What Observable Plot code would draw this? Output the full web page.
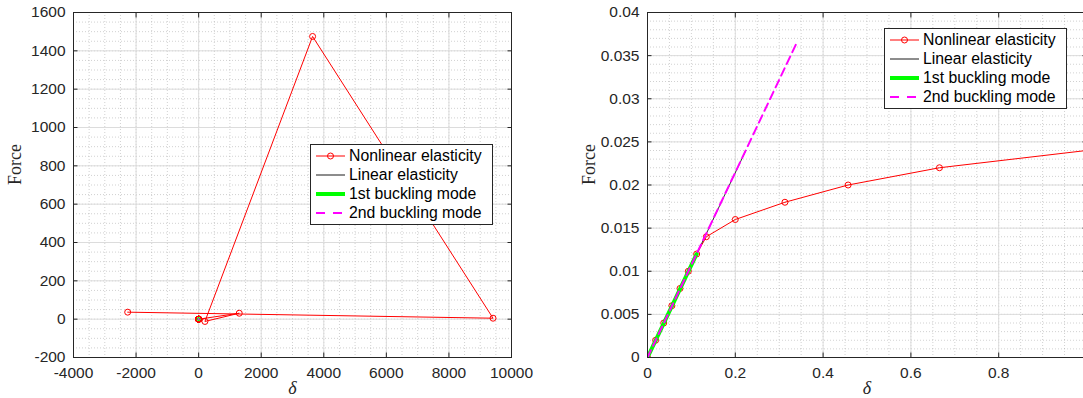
<!DOCTYPE html>
<html>
<head>
<meta charset="utf-8">
<script src="https://cdn.jsdelivr.net/npm/d3@7"></script>
<script src="https://cdn.jsdelivr.net/npm/@observablehq/plot@0.6"></script>
<style>
  html, body { margin: 0; padding: 0; background: #fff; width: 1083px; height: 398px; overflow: hidden; }
  #wrap { position: relative; width: 1083px; height: 398px; overflow: hidden; }
  .panel { position: absolute; top: 0; height: 398px; }
  .panel svg { max-width: none !important; display: block; }
  .legend { position: absolute; box-sizing: border-box; border: 1px solid #262626; background: #fff;
            font-family: "Liberation Sans", Arial, Helvetica, sans-serif; font-size: 15.8px; color: #000; }
  .legend .row { position: absolute; left: 0; height: 19px; display: flex; align-items: center; white-space: nowrap; }
  .legend .row svg { display: block; margin-left: 5px; margin-right: 4px; }
</style>
</head>
<body>
<div id="wrap">
  <div id="left" class="panel" style="left:0px; width:540px"></div>
  <div id="right" class="panel" style="left:540px; width:560px"></div>
</div>
<script>
// ---------------- data ----------------
// Nonlinear elasticity (full sequence, incl. divergent iterates)
const nonlinDelta = [0, 0.0185, 0.037, 0.0555, 0.074, 0.093, 0.112, 0.134, 0.2, 0.313, 0.457, 0.665, 1.0,
                     1298, 201, 3642, 9410, -2268];
const nonlinForce = [0, 0.002, 0.004, 0.006, 0.008, 0.010, 0.012, 0.014, 0.016, 0.018, 0.020, 0.022, 0.024,
                     31, -12, 1475, 5, 36.5];
// Linear elasticity
const linDelta = [0, 0.224];
const linForce = [0, 0.024];
// 1st buckling mode
const mode1Delta = [0, 0.112];
const mode1Force = [0, 0.012];
// 2nd buckling mode
const mode2Delta = [0, 0.34];
const mode2Force = [0, 0.0365];

const seriesNames = ["Nonlinear elasticity", "Linear elasticity", "1st buckling mode", "2nd buckling mode"];

// ticks
const leftXTicks = [-4000, -2000, 0, 2000, 4000, 6000, 8000, 10000];
const leftYTicks = [-200, 0, 200, 400, 600, 800, 1000, 1200, 1400, 1600];
const rightXTicks = [0, 0.2, 0.4, 0.6, 0.8];
const rightYTicks = [0, 0.005, 0.01, 0.015, 0.02, 0.025, 0.03, 0.035, 0.04];
const xLabel = "δ";
const yLabel = "Force";

// ---------------- helpers ----------------
const toRows = (xs, ys) => xs.map((x, i) => ({x, y: ys[i]}));
const nonlin = toRows(nonlinDelta, nonlinForce);
const lin = toRows(linDelta, linForce);
const mode1 = toRows(mode1Delta, mode1Force);
const mode2 = toRows(mode2Delta, mode2Force);

const AX = "#262626";
const fmt = d => String(d);
const minor = (lo, hi, step) => d3.range(Math.round((hi - lo) / step) + 1).map(i => +(lo + i * step).toFixed(6));
const SANS = "'Liberation Sans', Arial, Helvetica, sans-serif";
const SERIF = "'Liberation Serif', 'DejaVu Serif', serif";

function panel({width, marginLeft, marginRight, xDomain, yDomain, xTicks, yTicks, xMinor, yMinor}) {
  const tick = 4.5;
  return Plot.plot({
    width, height: 398,
    marginLeft, marginRight, marginTop: 12, marginBottom: 41,
    x: {domain: xDomain},
    y: {domain: yDomain},
    style: {background: "transparent", fontFamily: SANS, fontSize: "15px", color: AX, overflow: "visible", maxWidth: "none"},
    marks: [
      Plot.gridX(xMinor, {stroke: "#9a9a9a", strokeOpacity: 0.45, strokeDasharray: "1,2", strokeWidth: 1}),
      Plot.gridY(yMinor, {stroke: "#9a9a9a", strokeOpacity: 0.45, strokeDasharray: "1,2", strokeWidth: 1}),
      Plot.gridX(xTicks, {stroke: "#dcdcdc", strokeOpacity: 1, strokeWidth: 1}),
      Plot.gridY(yTicks, {stroke: "#dcdcdc", strokeOpacity: 1, strokeWidth: 1}),
      Plot.line(nonlin, {x: "x", y: "y", stroke: "#ff0000", strokeWidth: 1, clip: true}),
      Plot.dot(nonlin, {x: "x", y: "y", r: 3, stroke: "#ff0000", fill: "none", strokeWidth: 1, clip: true}),
      Plot.line(lin, {x: "x", y: "y", stroke: "#000", strokeWidth: 0.8, clip: true}),
      Plot.line(mode1, {x: "x", y: "y", stroke: "#00ff00", strokeWidth: 4, clip: true}),
      Plot.line(mode2, {x: "x", y: "y", stroke: "#ff00ff", strokeWidth: 2, strokeDasharray: "8,5", clip: true}),
      Plot.frame({stroke: AX, strokeWidth: 1}),
      Plot.axisX(xTicks, {anchor: "bottom", tickSize: -tick, tickPadding: 14, tickFormat: fmt, stroke: AX, fill: AX, label: null, fontSize: 15.5, fontFamily: SANS}),
      Plot.axisX(xTicks, {anchor: "top", tickSize: -tick, text: null, stroke: AX, label: null}),
      Plot.axisY(yTicks, {anchor: "left", tickSize: -tick, tickPadding: 12.5, tickFormat: fmt, stroke: AX, fill: AX, label: null, fontSize: 15.5, fontFamily: SANS}),
      Plot.axisY(yTicks, {anchor: "right", tickSize: -tick, text: null, stroke: AX, label: null}),
      Plot.text([xLabel], {frameAnchor: "bottom", dy: 31, lineAnchor: "middle", fontStyle: "italic",
                           fontFamily: SERIF, fontSize: 18, fill: AX}),
      Plot.text([yLabel], {frameAnchor: "left", dx: -58, rotate: -90, lineAnchor: "middle",
                           fontFamily: SERIF, fontSize: 18, fill: AX})
    ]
  });
}

function legend(left, top) {
  const div = document.createElement("div");
  div.className = "legend";
  Object.assign(div.style, {left: left + "px", top: top + "px", width: "183px", height: "81px"});
  const swatches = [
    `<svg width="29" height="10"><line x1="0" y1="5" x2="29" y2="5" stroke="#ff0000" stroke-width="1"/><circle cx="14.5" cy="5" r="3" fill="none" stroke="#ff0000"/></svg>`,
    `<svg width="29" height="10"><line x1="0" y1="5" x2="29" y2="5" stroke="#000" stroke-width="0.9"/></svg>`,
    `<svg width="29" height="10"><line x1="0" y1="5" x2="29" y2="5" stroke="#00ff00" stroke-width="4"/></svg>`,
    `<svg width="29" height="10"><line x1="0" y1="5" x2="29" y2="5" stroke="#ff00ff" stroke-width="2" stroke-dasharray="9,8"/></svg>`
  ];
  seriesNames.forEach((name, i) => {
    const row = document.createElement("div");
    row.className = "row";
    row.style.top = (1 + i * 19.3) + "px";
    row.innerHTML = swatches[i] + `<span>${name}</span>`;
    div.appendChild(row);
  });
  return div;
}

const leftChart = panel({
  width: 540, marginLeft: 73, marginRight: 29,
  xDomain: [-4000, 10000], yDomain: [-200, 1600],
  xTicks: leftXTicks, yTicks: leftYTicks,
  xMinor: minor(-4000, 10000, 500), yMinor: minor(-200, 1600, 50)
});
const rightChart = panel({
  width: 560, marginLeft: 107, marginRight: 14,
  xDomain: [0, 1], yDomain: [0, 0.04],
  xTicks: rightXTicks, yTicks: rightYTicks,
  xMinor: minor(0, 1, 0.05), yMinor: minor(0, 0.04, 0.001)
});
document.getElementById("left").appendChild(leftChart);
document.getElementById("right").appendChild(rightChart);
const wrap = document.getElementById("wrap");
wrap.appendChild(legend(310, 144));
wrap.appendChild(legend(884, 28));
</script>
</body>
</html>
